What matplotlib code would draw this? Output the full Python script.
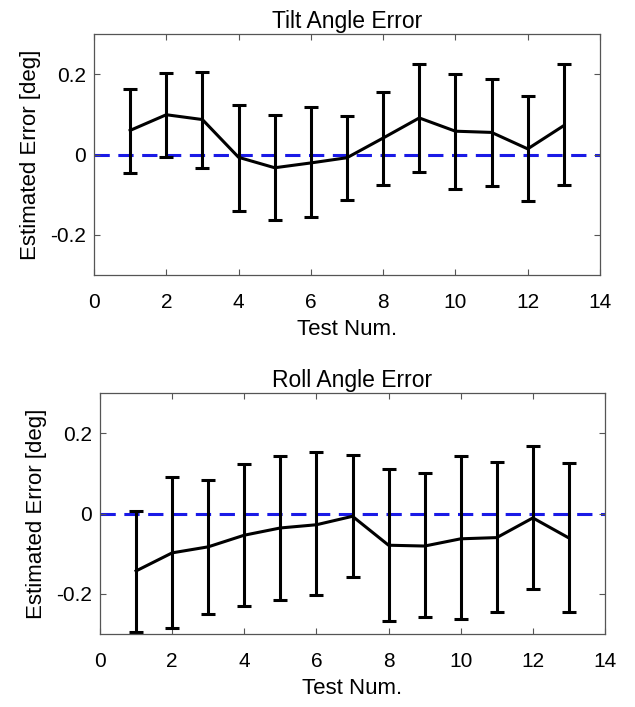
import matplotlib
matplotlib.use("Agg")
import matplotlib.pyplot as plt
import numpy as np

plt.rcParams['font.family'] = ['Liberation Sans', 'DejaVu Sans']

test_num = np.arange(1, 14)

tilt_mean = [0.060, 0.099, 0.087, -0.007, -0.033, -0.021, -0.008, 0.041, 0.091, 0.058, 0.055, 0.014, 0.072]
tilt_upper = [0.164, 0.204, 0.205, 0.123, 0.098, 0.118, 0.097, 0.156, 0.226, 0.201, 0.188, 0.145, 0.226]
tilt_lower = [-0.045, -0.006, -0.034, -0.140, -0.164, -0.155, -0.113, -0.076, -0.044, -0.087, -0.079, -0.117, -0.076]

roll_mean = [-0.143, -0.098, -0.083, -0.054, -0.036, -0.028, -0.007, -0.079, -0.081, -0.063, -0.060, -0.011, -0.061]
roll_upper = [0.006, 0.092, 0.084, 0.123, 0.144, 0.152, 0.145, 0.111, 0.101, 0.142, 0.128, 0.168, 0.125]
roll_lower = [-0.294, -0.286, -0.249, -0.231, -0.215, -0.203, -0.159, -0.267, -0.258, -0.263, -0.246, -0.189, -0.246]

titles = ["Tilt Angle Error", "Roll Angle Error"]
xlabel = "Test Num."
ylabel = "Estimated Error [deg]"
xticks = [0, 2, 4, 6, 8, 10, 12, 14]
yticks = [-0.2, 0, 0.2]
yticklabels = ["-0.2", "0", "0.2"]

W, H = 635, 707
fig = plt.figure(figsize=(W / 100, H / 100), dpi=100)

# axes rects in pixel coords: left, top, right, bottom
rects = [(94, 34, 600, 275), (100, 393, 605, 634)]
data = [(tilt_mean, tilt_lower, tilt_upper), (roll_mean, roll_lower, roll_upper)]

for (l, t, r, b), (m, lo, up), title in zip(rects, data, titles):
    ax = fig.add_axes([l / W, 1 - b / H, (r - l) / W, (b - t) / H])
    m = np.array(m); lo = np.array(lo); up = np.array(up)
    ax.plot([0, 14], [0, 0], color='#1a1ae6', lw=2.2, dashes=(5, 2.8), zorder=1)
    ax.errorbar(test_num, m, yerr=[m - lo, up - m], color='black', lw=2.2,
                elinewidth=2.2, capsize=4.8, capthick=2.2, zorder=2)
    ax.set_xlim(0, 14)
    ax.set_ylim(-0.3, 0.3)
    ax.set_xticks(xticks)
    ax.set_yticks(yticks)
    ax.set_yticklabels(yticklabels)
    ax.tick_params(direction='in', top=True, right=True, labelsize=15,
                   color='#555555', length=4, width=0.8)
    ax.tick_params(axis='x', pad=13)
    ax.tick_params(axis='y', pad=6)
    for s in ax.spines.values():
        s.set_color('#555555')
        s.set_linewidth(0.9)
    ax.set_title(title, fontsize=16.5, pad=4)
    ax.set_xlabel(xlabel, fontsize=16, labelpad=5)
    ax.set_ylabel(ylabel, fontsize=16, labelpad=6)

fig.savefig("out.png", dpi=100)
